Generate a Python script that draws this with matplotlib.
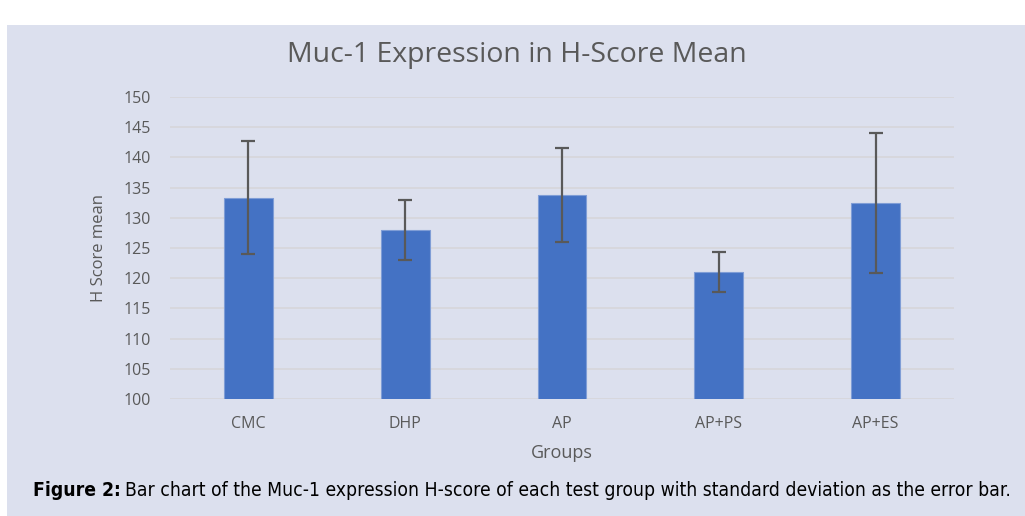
import matplotlib
matplotlib.use("Agg")
import matplotlib.pyplot as plt
from matplotlib.patches import Rectangle

groups = ["CMC", "DHP", "AP", "AP+PS", "AP+ES"]
means = [133.35, 128.0, 133.8, 121.0, 132.4]
sds = [9.4, 5.0, 7.8, 3.35, 11.6]
y_ticks = [100, 105, 110, 115, 120, 125, 130, 135, 140, 145, 150]

panel_color = "#DCE0EE"
text_color = "#595959"

fig = plt.figure(figsize=(10.25, 5.16), dpi=100, facecolor="white")
fig.patches.append(
    Rectangle((7 / 1025, 0), 1, 1 - 25 / 516, transform=fig.transFigure,
              facecolor=panel_color, edgecolor="none", zorder=-5)
)

ax = fig.add_axes([170 / 1025, 1 - 399 / 516, 784 / 1025, 302 / 516])
ax.set_zorder(2)
ax.set_facecolor("none")

x = list(range(len(groups)))
ax.bar(x, means, width=0.31, color="#4472C4", edgecolor="#7F9DD6",
       linewidth=0.8, zorder=3)
ax.errorbar(x, means, yerr=sds, fmt="none", ecolor="#595959",
            elinewidth=1.6, capsize=5, capthick=1.6, zorder=4)

ax.set_xlim(-0.5, len(groups) - 0.5)
ax.set_ylim(100, 150)
ax.set_yticks(y_ticks)
ax.set_xticks(x)
ax.set_xticklabels(groups)
ax.grid(axis="y", color="#D6D6DA", linewidth=1.2, zorder=0)
for s in ax.spines.values():
    s.set_visible(False)
ax.tick_params(length=0, colors=text_color, labelsize=11.5)
ax.tick_params(axis="x", pad=12)
ax.tick_params(axis="y", pad=14)
for lab in ax.get_xticklabels() + ax.get_yticklabels():
    lab.set_family("Open Sans")

ax.set_ylabel("H Score mean", color=text_color, fontsize=12,
              family="Open Sans", labelpad=12)
ax.set_xlabel("Groups", color=text_color, fontsize=13,
              family="Open Sans", labelpad=9)

fig.text(517 / 1025, 1 - 55 / 516, "Muc-1 Expression in H-Score Mean",
         ha="center", va="center", fontsize=20.5, color=text_color,
         family="Open Sans")

# caption: bold prefix followed by regular text
cap_y = 1 - 491 / 516
t1 = fig.text(33 / 1025, cap_y, "Figure 2:", ha="left", va="center",
              fontsize=13.9, fontweight="bold", family="DejaVu Sans",
              fontstretch="condensed", color="black")
fig.canvas.draw()
bb = t1.get_window_extent()
fig.text(bb.x1 / fig.bbox.width + 4 / 1025, cap_y,
         "Bar chart of the Muc-1 expression H-score of each test group "
         "with standard deviation as the error bar.",
         ha="left", va="center", fontsize=13.9, family="DejaVu Sans",
         fontstretch="condensed", color="black")

fig.savefig("out.png", dpi=100, facecolor="white")
